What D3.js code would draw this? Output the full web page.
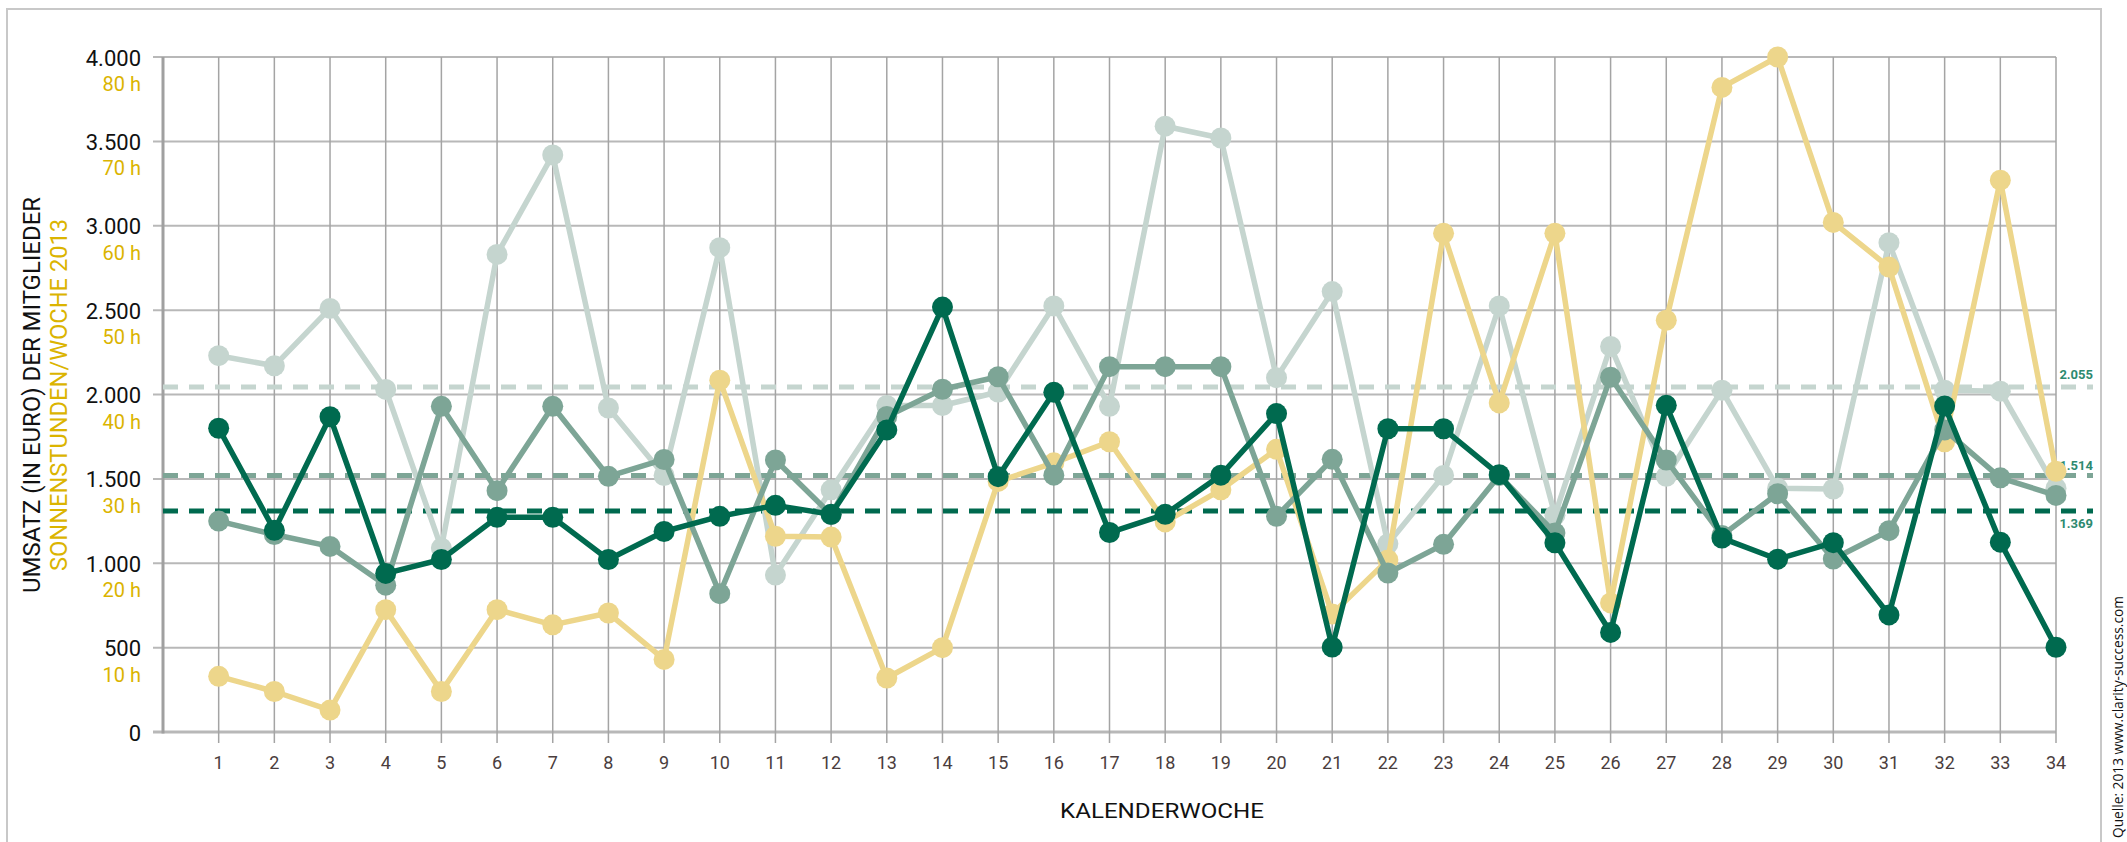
<!DOCTYPE html>
<html>
<head>
<meta charset="utf-8">
<script src="https://cdn.jsdelivr.net/npm/d3@7"></script>
<style>
  body { margin: 0; background: #fff; }
  svg { display: block; font-family: Roboto, "DejaVu Sans", sans-serif; }
</style>
</head>
<body>
<div class="canvas"></div>
<script>
// Kalenderwochen 1-34
const weeks = [1,2,3,4,5,6,7,8,9,10,11,12,13,14,15,16,17,18,19,20,21,22,23,24,25,26,27,28,29,30,31,32,33,34]

// Umsatz in Euro, drei Mitglieder
const umsatzHell = [2230,2170,2510,2030,1090,2830,3420,1920,1520,2870,930,1435,1935,1935,2015,2525,1930,3590,3520,2100,2610,1115,1520,2525,1285,2285,1515,2025,1445,1440,2900,2025,2020,1445]
const umsatzMittel = [1250,1170,1100,870,1930,1430,1930,1515,1615,820,1612,1288,1870,2031,2105,1522,2165,2165,2165,1278,1616,942,1112,1520,1180,2102,1612,1165,1412,1025,1193,1790,1506,1402]
const umsatzDunkel = [1800,1195,1868,940,1022,1272,1272,1022,1188,1278,1343,1290,1790,2518,1513,2013,1182,1290,1522,1887,503,1797,1797,1525,1121,590,1936,1149,1024,1122,694,1932,1125,502]

// Sonnenstunden pro Woche
const sonnenstunden = [6.6,4.8,2.6,14.5,4.8,14.5,12.7,14.1,8.6,41.7,23.2,23.1,6.4,10.0,29.7,31.9,34.4,24.9,28.7,33.5,14.0,20.4,59.1,39.0,59.1,15.3,48.8,76.4,80.0,60.4,55.1,34.4,65.4,30.9]

// Durchschnittswerte (Beschriftung) und Lage der gestrichelten Linien im Bild
const mittelwerte = [2055, 1514, 1369]
const mittelwertLinien = [2045, 1520, 1310]

// Achsenbeschriftung
const umsatzTicks = [0,500,1000,1500,2000,2500,3000,3500,4000]
const stundenTicks = [0,10,20,30,40,50,60,70,80]

const width = 2127
const height = 842
const hell = '#c5d5cf'
const mittel = '#7da596'
const dunkel = '#006a4f'
const gold = '#edd68b'
const goldText = '#dbb400'
const teal = '#2e8a70'

const de = d3.formatLocale({decimal: ',', thousands: '.', grouping: [3], currency: ['', ' €']})
const fmt = de.format(',')

const svg = d3.select('.canvas')
  .append('svg')
  .attr('width', width)
  .attr('height', height)

const x = d3.scaleLinear().domain([0, 34]).range([163, 2056])
const y = d3.scaleLinear().domain([0, 4000]).range([732, 57])
const yH = d3.scaleLinear().domain([0, 80]).range([732, 57])

// Rahmen
svg.append('path')
  .attr('d', `M7,${height}V9H2101V${height}`)
  .attr('fill', 'none')
  .attr('stroke', '#c8c8c8')
  .attr('stroke-width', 2)

// horizontale Gitterlinien
svg.append('g').selectAll('line')
  .data(umsatzTicks)
  .enter().append('line')
  .attr('x1', 153)
  .attr('x2', x(34))
  .attr('y1', d => y(d))
  .attr('y2', d => y(d))
  .attr('stroke', '#b8b8b8')
  .attr('stroke-width', d => d === 0 ? 3 : 2)

// vertikale Gitterlinien
svg.append('g').selectAll('line')
  .data(weeks)
  .enter().append('line')
  .attr('x1', d => x(d))
  .attr('x2', d => x(d))
  .attr('y1', y(4000))
  .attr('y2', y(0) + 11)
  .attr('stroke', '#a4a4a4')
  .attr('stroke-width', 1.5)

// y-Achse
svg.append('line')
  .attr('x1', x(0)).attr('x2', x(0))
  .attr('y1', y(4000)).attr('y2', y(0) + 1.5)
  .attr('stroke', '#a0a0a0')
  .attr('stroke-width', 3)

// Tick-Beschriftungen links
const yLabels = svg.append('g')
yLabels.selectAll('text.umsatz')
  .data(umsatzTicks)
  .enter().append('text')
  .attr('class', 'umsatz')
  .attr('x', 141)
  .attr('y', d => y(d) + 8.5)
  .attr('text-anchor', 'end')
  .style('font-size', '22px')
  .style('fill', '#111')
  .text(d => fmt(d))

yLabels.selectAll('text.stunden')
  .data(stundenTicks.filter(d => d > 0))
  .enter().append('text')
  .attr('class', 'stunden')
  .attr('x', 141)
  .attr('y', d => yH(d) + 34)
  .attr('text-anchor', 'end')
  .style('font-size', '20px')
  .style('fill', goldText)
  .text(d => d + ' h')

// x-Achse Beschriftung
svg.append('g').selectAll('text')
  .data(weeks)
  .enter().append('text')
  .attr('x', d => x(d))
  .attr('y', 769)
  .attr('text-anchor', 'middle')
  .style('font-size', '18px')
  .style('fill', '#4a3d3d')
  .text(d => d)

svg.append('text')
  .attr('x', 1162)
  .attr('y', 818)
  .attr('text-anchor', 'middle')
  .attr('textLength', 204)
  .attr('lengthAdjust', 'spacingAndGlyphs')
  .style('font-size', '21px')
  .style('fill', '#111')
  .text('KALENDERWOCHE')

// Achsentitel
svg.append('text')
  .attr('transform', 'translate(40,395) rotate(-90)')
  .attr('text-anchor', 'middle')
  .attr('textLength', 396)
  .attr('lengthAdjust', 'spacingAndGlyphs')
  .style('font-size', '23px')
  .style('fill', '#111')
  .text('UMSATZ (IN EURO) DER MITGLIEDER')

svg.append('text')
  .attr('transform', 'translate(67,395) rotate(-90)')
  .attr('text-anchor', 'middle')
  .attr('textLength', 352)
  .attr('lengthAdjust', 'spacingAndGlyphs')
  .style('font-size', '23px')
  .style('fill', goldText)
  .text('SONNENSTUNDEN/WOCHE 2013')

// Quelle
svg.append('text')
  .attr('transform', 'translate(2123,838) rotate(-90)')
  .attr('text-anchor', 'start')
  .attr('textLength', 242)
  .attr('lengthAdjust', 'spacingAndGlyphs')
  .style('font-family', '"Open Sans", sans-serif')
  .style('font-size', '15px')
  .style('fill', '#111')
  .text('Quelle: 2013 www.clarity-success.com')

// Durchschnittslinien
const avgColours = [hell, mittel, dunkel]
const avgOffset = [-8, -6, 17]
const avg = svg.append('g')
avg.selectAll('line')
  .data(mittelwertLinien)
  .enter().append('line')
  .attr('x1', x(0))
  .attr('x2', 2093)
  .attr('y1', d => y(d))
  .attr('y2', d => y(d))
  .attr('stroke', (d, i) => avgColours[i])
  .attr('stroke-width', 5)
  .attr('stroke-dasharray', '15 11')
avg.selectAll('text')
  .data(mittelwerte)
  .enter().append('text')
  .attr('x', 2093)
  .attr('y', (d, i) => y(mittelwertLinien[i]) + avgOffset[i])
  .attr('text-anchor', 'end')
  .style('font-size', '13px')
  .style('font-weight', 'bold')
  .style('fill', teal)
  .text(d => fmt(d))

// Linien und Punkte
const series = [
  {values: umsatzHell, colour: hell, scale: y},
  {values: sonnenstunden, colour: gold, scale: yH},
  {values: umsatzMittel, colour: mittel, scale: y},
  {values: umsatzDunkel, colour: dunkel, scale: y}
]

series.forEach(s => {
  const line = d3.line()
    .x((d, i) => x(weeks[i]))
    .y(d => s.scale(d))
  const g = svg.append('g')
  g.append('path')
    .datum(s.values)
    .attr('d', line)
    .attr('fill', 'none')
    .attr('stroke', s.colour)
    .attr('stroke-width', 5.5)
    .attr('stroke-linejoin', 'round')
  g.selectAll('circle')
    .data(s.values)
    .enter().append('circle')
    .attr('cx', (d, i) => x(weeks[i]))
    .attr('cy', d => s.scale(d))
    .attr('r', 10.5)
    .attr('fill', s.colour)
})
</script>
</body>
</html>
